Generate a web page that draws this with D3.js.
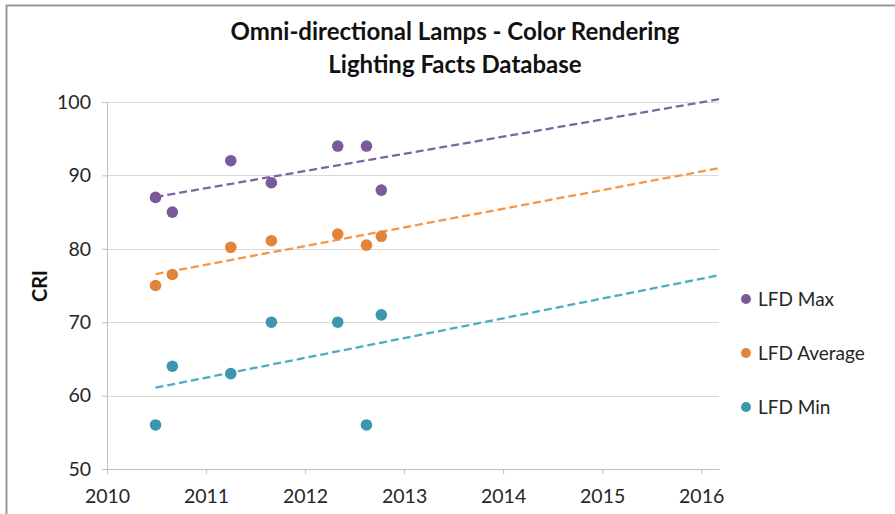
<!DOCTYPE html>
<html>
<head>
<meta charset="utf-8">
<script src="https://cdn.jsdelivr.net/npm/d3@7"></script>
<style>
  body { margin: 0; background: #fff; }
  svg { display: block; font-family: Lato, 'Open Sans', sans-serif; }
</style>
</head>
<body>
<svg id="chart" width="895" height="514"></svg>
<script>
'use strict';

// data (x = fractional year)
var years = [2010.49, 2010.66, 2011.25, 2011.66, 2012.33, 2012.62, 2012.77];
var lfdMax = [87, 85, 92, 89, 94, 94, 88];
var lfdAvg = [75, 76.5, 80.2, 81.1, 82, 80.5, 81.7];
var lfdMin = [56, 64, 63, 70, 70, 56, 71];
var xTicks = [2010, 2011, 2012, 2013, 2014, 2015, 2016];
var yTicks = [50, 60, 70, 80, 90, 100];

var series = [
  { name: 'LFD Max', values: lfdMax, dot: '#7a5a9a', line: '#8064a2' },
  { name: 'LFD Average', values: lfdAvg, dot: '#e2853c', line: '#f79646' },
  { name: 'LFD Min', values: lfdMin, dot: '#3b97ad', line: '#4bacc6' }
];

var svg = d3.select('#chart');
var margin = { left: 107, right: 176, top: 102, bottom: 45 };
var width = 895 - margin.left - margin.right;
var height = 514 - margin.top - margin.bottom;

// outer frame (left + top only visible)
svg.append('path')
  .attr('d', 'M6.5,514 V5.5 H895')
  .attr('fill', 'none')
  .attr('stroke', '#999')
  .attr('stroke-width', 2);

var x = d3.scaleLinear().domain([2010, 2016.18]).range([0, width]);
var y = d3.scaleLinear().domain([50, 100]).range([height, 0]);

var g = svg.append('g')
  .attr('transform', 'translate(' + [margin.left, margin.top] + ')');

// gridlines
g.append('g')
  .selectAll('line')
  .data(yTicks.filter(function (d) { return d > 50; }))
  .enter()
  .append('line')
  .attr('x1', 0)
  .attr('x2', width)
  .attr('y1', function (d) { return Math.round(y(d)) + 0.5; })
  .attr('y2', function (d) { return Math.round(y(d)) + 0.5; })
  .attr('stroke', '#d9d9d9');

var xAxis = d3.axisBottom(x)
  .tickValues(xTicks)
  .tickFormat(d3.format('d'))
  .tickSize(5)
  .tickSizeOuter(0);

var yAxis = d3.axisLeft(y)
  .tickValues(yTicks)
  .tickSize(5)
  .tickSizeOuter(0);

var xAxisEl = g.append('g')
  .attr('transform', 'translate(0,' + height + ')')
  .call(xAxis);
var yAxisEl = g.append('g').call(yAxis);

[xAxisEl, yAxisEl].forEach(function (a) {
  a.select('.domain').attr('stroke', '#bfbfbf');
  a.selectAll('.tick line').attr('stroke', '#bfbfbf');
  a.selectAll('text')
    .attr('fill', '#262626')
    .style('font-size', '19.5px')
    .style('font-family', 'Lato, sans-serif');
});
xAxisEl.selectAll('text').attr('dy', '0.71em').attr('y', 20);
yAxisEl.selectAll('text').attr('x', -16);

// linear trendlines, forecast to the right edge
function fit(xs, ys) {
  var mx = d3.mean(xs), my = d3.mean(ys);
  var sxy = d3.sum(xs, function (v, i) { return (v - mx) * (ys[i] - my); });
  var sxx = d3.sum(xs, function (v) { return (v - mx) * (v - mx); });
  var slope = sxy / sxx;
  return function (v) { return my + slope * (v - mx); };
}

series.forEach(function (s) {
  var f = fit(years, s.values);
  var x0 = d3.min(years), x1 = x.domain()[1];
  g.append('line')
    .attr('x1', x(x0)).attr('y1', y(f(x0)))
    .attr('x2', x(x1)).attr('y2', y(f(x1)))
    .attr('stroke', s.line)
    .attr('stroke-width', 2.3)
    .attr('stroke-dasharray', '8,4');
});

series.forEach(function (s) {
  g.append('g')
    .selectAll('circle')
    .data(s.values)
    .enter()
    .append('circle')
    .attr('cx', function (d, i) { return x(years[i]); })
    .attr('cy', function (d) { return y(d); })
    .attr('r', 5.8)
    .attr('fill', s.dot);
});

// axis title
svg.append('text')
  .text('CRI')
  .attr('transform', 'translate(' + [47, 286] + ') rotate(-90)')
  .attr('text-anchor', 'middle')
  .style('font-size', '20px')
  .style('font-weight', 'bold')
  .attr('fill', '#111');

// title
var title = svg.append('text')
  .attr('text-anchor', 'middle')
  .style('font-size', '24px')
  .style('font-weight', 'bold')
  .attr('fill', '#111');
title.append('tspan').attr('x', 455).attr('y', 40).text('Omni-directional Lamps - Color Rendering');
title.append('tspan').attr('x', 455).attr('y', 73).text('Lighting Facts Database');

// legend
var legend = svg.append('g')
  .selectAll('g')
  .data(series)
  .enter()
  .append('g')
  .attr('transform', function (d, i) { return 'translate(' + [746, 299 + i * 54] + ')'; });
legend.append('circle').attr('r', 5).attr('fill', function (d) { return d.dot; });
legend.append('text')
  .attr('x', 12)
  .attr('dy', '0.36em')
  .style('font-size', '19px')
  .attr('fill', '#262626')
  .text(function (d) { return d.name; });
</script>
</body>
</html>
